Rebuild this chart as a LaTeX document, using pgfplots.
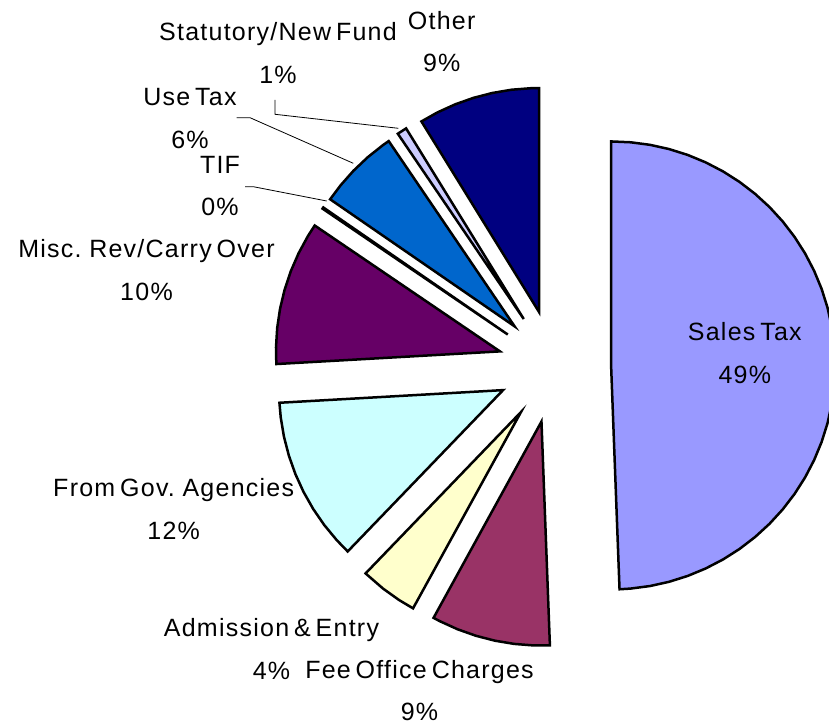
\documentclass[border=0pt]{standalone}
\usepackage{fontspec}
\setmainfont{Liberation Sans}
\newfontfamily\lbl[LetterSpace=5,WordSpace=0.6]{Liberation Sans}
\usepackage{pgfplots}
\pgfplotsset{compat=1.18}
\usepgfplotslibrary{polar}
\definecolor{cSales}{HTML}{9999FF}
\definecolor{cFee}{HTML}{993366}
\definecolor{cAdm}{HTML}{FFFFCC}
\definecolor{cGov}{HTML}{CCFFFF}
\definecolor{cMisc}{HTML}{660066}
\definecolor{cTIF}{HTML}{FF8080}
\definecolor{cUse}{HTML}{0066CC}
\definecolor{cStat}{HTML}{CCCCFF}
\definecolor{cOther}{HTML}{000080}
\tikzset{
  slice/.style={draw=black, line width=2.5pt},
  lab/.style={font=\lbl\fontsize{25}{42.5}\selectfont, align=center, inner sep=0pt},
}
\begin{document}
\begin{tikzpicture}
% shares (%): Sales 49.4, Fee 8.6, Admission 4.2, Gov 11.9, Misc 10.4,
% TIF 0.1, Use 5.9, Statutory 0.7, Other 8.8 -- clockwise from 12 o'clock
\begin{axis}[
    x=1pt, y=1pt,
    xmin=-554.5, xmax=274.5, ymin=-359.5, ymax=366.5,
    hide axis,
    every axis plot/.append style={data cs=polar},
  ]
  \addplot[slice, fill=cSales, shift={(1.08:56.6pt)}] coordinates {(90,0) (90,224) (85,224) (80,224) (75,224) (70,224) (65,224) (60,224) (55,224) (50,224) (45,224) (40,224) (35,224) (30,224) (25,224) (20,224) (15,224) (10,224) (5,224) (0,224) (-5,224) (-10,224) (-15,224) (-20,224) (-25,224) (-30,224) (-35,224) (-40,224) (-45,224) (-50,224) (-55,224) (-60,224) (-65,224) (-70,224) (-75,224) (-80,224) (-85,224) (-87.84,224)} -- cycle;
  \addplot[slice, fill=cFee, shift={(-103.32:56.6pt)}] coordinates {(-87.84,0) (-87.84,224) (-92,224) (-97,224) (-102,224) (-107,224) (-112,224) (-117,224) (-118.8,224)} -- cycle;
  \addplot[slice, fill=cAdm, shift={(-126.36:56.6pt)}] coordinates {(-118.8,0) (-118.8,224) (-123,224) (-128,224) (-133.92,224)} -- cycle;
  \addplot[slice, fill=cGov, shift={(-155.34:56.6pt)}] coordinates {(-133.92,0) (-133.92,224) (-138,224) (-143,224) (-148,224) (-153,224) (-158,224) (-163,224) (-168,224) (-173,224) (-176.76,224)} -- cycle;
  \addplot[slice, fill=cMisc, shift={(-195.48:56.6pt)}] coordinates {(-176.76,0) (-176.76,224) (-181,224) (-186,224) (-191,224) (-196,224) (-201,224) (-206,224) (-211,224) (-214.2,224)} -- cycle;
  \addplot[slice, fill=cTIF, shift={(-214.38:56.6pt)}] coordinates {(-214.2,0) (-214.2,224) (-214.56,224)} -- cycle;
  \addplot[slice, fill=cUse, shift={(-225.18:56.6pt)}] coordinates {(-214.56,0) (-214.56,224) (-219,224) (-224,224) (-229,224) (-234,224) (-235.8,224)} -- cycle;
  \addplot[slice, fill=cStat, shift={(-237.06:56.6pt)}] coordinates {(-235.8,0) (-235.8,224) (-238.32,224)} -- cycle;
  \addplot[slice, fill=cOther, shift={(-254.16:56.6pt)}] coordinates {(-238.32,0) (-238.32,224) (-243,224) (-248,224) (-253,224) (-258,224) (-263,224) (-268,224) (-270,224)} -- cycle;

  % leader lines
  \draw[line width=0.8pt] (axis cs:-279.5,266.5) -- (axis cs:-279.5,252.2) -- (axis cs:-156.2,238.2);
  \draw[line width=0.8pt] (axis cs:-317.8,248.8) -- (axis cs:-304.5,248.8) -- (axis cs:-201.2,203.2);
  \draw[line width=0.8pt] (axis cs:-309.5,179.8) -- (axis cs:-301.2,179.8) -- (axis cs:-227.8,165.5);

  % labels
  \node[lab] at (axis cs:190.3,13.6) {Sales Tax\\49\%};
  \node[lab] at (axis cs:-135,-324) {Fee Office Charges\\9\%};
  \node[lab] at (axis cs:-283,-282.3) {Admission \& Entry\\4\%};
  \node[lab] at (axis cs:-380.8,-142.6) {From Gov. Agencies\\12\%};
  \node[lab] at (axis cs:-408,96.5) {Misc. Rev/Carry Over\\10\%};
  \node[lab] at (axis cs:-334.5,180.6) {TIF\\0\%};
  \node[lab] at (axis cs:-364.5,248.2) {Use Tax\\6\%};
  \node[lab] at (axis cs:-276.5,313.6) {Statutory/New Fund\\1\%};
  \node[lab] at (axis cs:-112.8,324.8) {Other\\9\%};
\end{axis}
\pgfresetboundingbox
\path (current axis.south west) rectangle (current axis.north east);
\end{tikzpicture}
\end{document}
